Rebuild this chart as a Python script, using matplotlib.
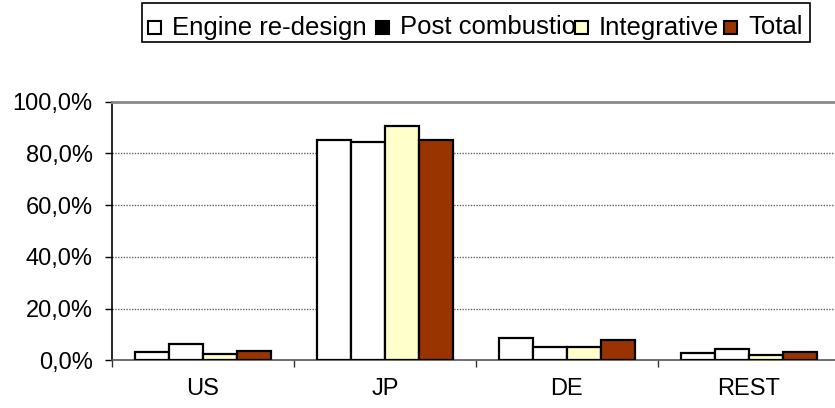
import numpy as np
import matplotlib.pyplot as plt
from matplotlib.patches import Rectangle
from matplotlib.ticker import FuncFormatter

plt.rcParams['font.family'] = ['Liberation Sans', 'DejaVu Sans']

regions = ['US', 'JP', 'DE', 'REST']
series = ['Engine re-design', 'Post combustion', 'Integrative', 'Total']
engine = [3.4, 85.2, 8.8, 2.7]
post = [6.3, 84.3, 5.1, 4.4]
integrative = [2.5, 90.6, 5.1, 1.9]
total = [3.7, 85.2, 7.8, 3.3]

bar_colors = ['white', 'white', '#FFFFCC', '#993300']
legend_colors = ['white', 'black', '#FFFFCC', '#993300']

W, H = 835, 408
fig = plt.figure(figsize=(W / 100, H / 100), dpi=100)
ax = fig.add_axes([112/W, 1 - 360.3/H, 728/W, (360.3 - 101.7)/H])

x = np.arange(len(regions))
w = 0.187
for i, vals in enumerate([engine, post, integrative, total]):
    ax.bar(x + (i - 1.5) * w, vals, width=w, color=bar_colors[i],
           edgecolor='black', linewidth=1.6, zorder=3)

ax.set_xlim(-0.5, 3.5)
ax.set_ylim(0, 100)
ax.set_yticks([0, 20, 40, 60, 80, 100])
ax.yaxis.set_major_formatter(FuncFormatter(lambda v, p: f'{v:.1f}%'.replace('.', ',')))
ax.set_xticks(x)
ax.set_xticklabels(regions)
ax.set_xticks(np.arange(-0.5, 4, 1), minor=True)
ax.tick_params(axis='x', which='major', length=0, pad=13, labelsize=17)
ax.tick_params(axis='x', which='minor', length=5, width=1, color='#333333', direction='out')
ax.tick_params(axis='y', length=5, width=1, pad=9, labelsize=17)

for yv in [20, 40, 60, 80]:
    ax.axhline(yv, color='#666666', linestyle=(0, (1, 1)), linewidth=1, zorder=1)

ax.spines['top'].set_color('#888888')
ax.spines['top'].set_linewidth(2)
ax.spines['right'].set_visible(False)
ax.spines['left'].set_linewidth(1.2)
ax.spines['bottom'].set_linewidth(1.2)
ax.spines['bottom'].set_color('#555555')

# legend drawn by hand, Excel style (fixed slots, long label runs under next swatch)
fig.add_artist(Rectangle((142/W, 1 - 42/H), (810 - 142)/W, 39/H, transform=fig.transFigure,
                         facecolor='white', edgecolor='black', linewidth=1.2, zorder=1))
swatch_x = [148, 376, 575, 724]
for sx, lab, col in zip(swatch_x, series, legend_colors):
    fig.text((sx + 24)/W, 1 - 34.5/H, lab, fontsize=18.5, va='baseline', ha='left', zorder=2)
    fig.add_artist(Rectangle((sx/W, 1 - 34/H), 13/W, 13/H, transform=fig.transFigure,
                             facecolor=col, edgecolor='black', linewidth=1.5, zorder=3))

fig.savefig('out.png', dpi=100)
